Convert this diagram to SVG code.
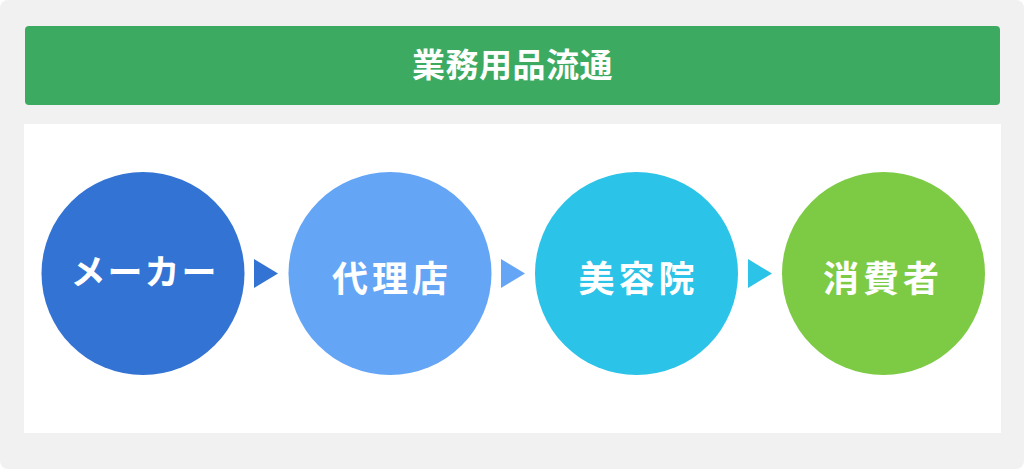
<svg xmlns="http://www.w3.org/2000/svg" width="1024" height="469" viewBox="0 0 1024 469">
<style>
.lbl{font-family:"Noto Sans CJK JP","Noto Sans",sans-serif;font-weight:700;fill:#fff;text-anchor:middle}
.node{font-size:36px;letter-spacing:4px}
</style>
<rect x="0" y="0" width="1024" height="469" rx="8" fill="#f1f1f1"/>
<g id="title">
<rect x="25" y="26" width="975" height="79" rx="4" fill="#3daa62"/>
<text class="lbl" x="512.5" y="77" font-size="33" letter-spacing="0.5">業務用品流通</text>
</g>
<rect x="24" y="124" width="977" height="309" fill="#ffffff"/>
<g id="connectors">
<polygon points="254,259 254,288 278,273.5" fill="#3273d3"/>
<polygon points="501,259 501,288 525,273.5" fill="#64a5f5"/>
<polygon points="748,259 748,288 772,273.5" fill="#2bc3e8"/>
</g>
<g id="maker">
<circle cx="143" cy="273.5" r="101.5" fill="#3273d3"/>
<text class="lbl" x="144.5" y="285" font-size="35" letter-spacing="2">メーカー</text>
</g>
<g id="agency">
<circle cx="390" cy="273.5" r="101.5" fill="#64a5f5"/>
<text class="lbl node" x="392" y="291.5">代理店</text>
</g>
<g id="salon">
<circle cx="636.5" cy="273.5" r="101.5" fill="#2bc3e8"/>
<text class="lbl node" x="638.5" y="291.5">美容院</text>
</g>
<g id="consumer">
<circle cx="883.5" cy="273.5" r="101.5" fill="#7dcb45"/>
<text class="lbl node" x="883" y="291.5">消費者</text>
</g>
</svg>
